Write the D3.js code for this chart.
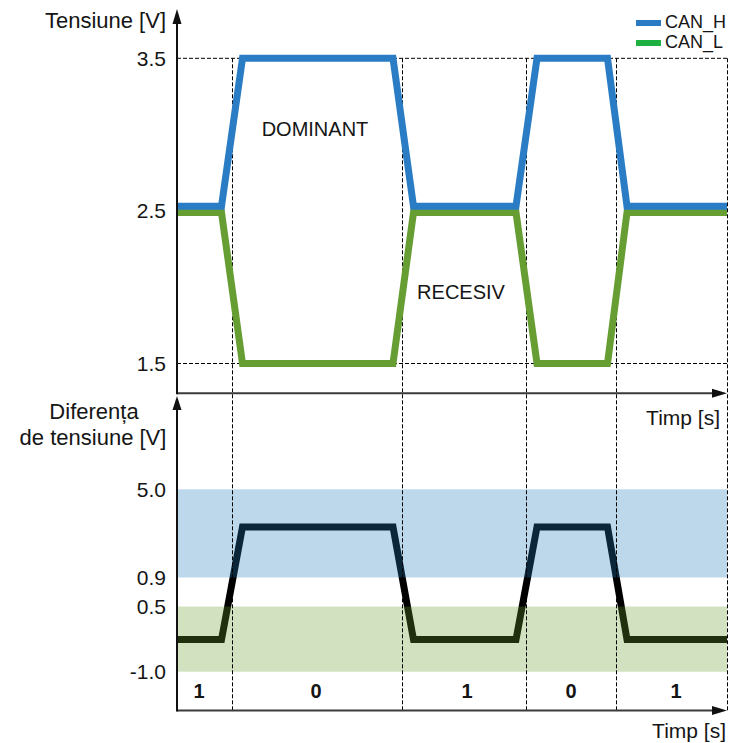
<!DOCTYPE html>
<html>
<head>
<meta charset="utf-8">
<script src="https://cdn.jsdelivr.net/npm/d3@7"></script>
<style>
  html, body { margin: 0; padding: 0; background: #fff; }
  svg { display: block; font-family: "Liberation Sans", Arial, sans-serif; }
</style>
</head>
<body>
<svg id="chart" width="736" height="743"></svg>
<script>
// ---------------- data ----------------
const times   = [0, 4.45, 6.55, 21.6, 23.65, 33.9, 36.0, 43.05, 45.0, 55];
const canH    = [2.53, 2.53, 3.5, 3.5, 2.53, 2.53, 3.5, 3.5, 2.53, 2.53];
const canL    = [2.49, 2.49, 1.5, 1.5, 2.49, 2.49, 1.5, 1.5, 2.49, 2.49];
const diffV   = [-0.26, -0.26, 3.25, 3.25, -0.26, -0.26, 3.25, 3.25, -0.26, -0.26];
const bitEdges  = [5.45, 22.45, 34.85, 43.85, 55];
const bits      = ["1", "0", "1", "0", "1"];
const bitLabelT = [2.2, 13.9, 29.0, 39.4, 49.9];
const topTicks    = [1.5, 2.5, 3.5];
const bottomTicks = [-1.0, 0.5, 0.9, 5.0];
const guideLevels = [3.5, 1.5];
const bandRanges  = [[0.9, 5.0], [-1.0, 0.5]];
const seriesNames = ["CAN_H", "CAN_L"];
const annotations = [
  { text: "DOMINANT", t: 13.8, v: 3.036 },
  { text: "RECESIV",  t: 28.4, v: 1.967 }
];

// ---------------- styles ----------------
const lineColors   = ["#2a7dc4", "#669e34"];
const legendColors = ["#2a7ac4", "#1eb040"];
const bandColors   = ["rgb(40,125,190)", "rgb(105,160,50)"];
const textColor = "#151515";

// ---------------- scales ----------------
const svg = d3.select("#chart");
const x = d3.scaleLinear().domain([0, 55]).range([177, 727]);
const yTop = d3.scaleLinear().domain([1.5, 3.5]).range([363.5, 58.3]);
const yBot = d3.scaleLinear().domain([-1.0, 0.5, 0.9, 5.0]).range([671.7, 606.5, 577.5, 489.3]);

const topAxisY = 393.3, botAxisY = 710.5;
const fmt = d => d.toFixed(1);

// ---------------- bottom chart: line first, then translucent bands ----------------
const idx = d3.range(times.length);
const lineGen = (ys, vals) => d3.line().x(i => x(times[i])).y(i => ys(vals[i]));

svg.append("path")
  .attr("d", lineGen(yBot, diffV)(idx))
  .attr("fill", "none").attr("stroke", "#000").attr("stroke-width", 7)
  .attr("stroke-linejoin", "miter");

svg.selectAll("rect.band").data(bandRanges).join("rect")
  .attr("class", "band")
  .attr("x", x(0)).attr("width", x(55) - x(0))
  .attr("y", d => yBot(d[1])).attr("height", d => yBot(d[0]) - yBot(d[1]))
  .attr("fill", (d, i) => bandColors[i]).attr("fill-opacity", 0.3);

// ---------------- dashed guides ----------------
const guides = svg.append("g").attr("stroke", "#000").attr("stroke-width", 1)
  .attr("stroke-dasharray", "4,2").attr("fill", "none");
guides.selectAll("line.h").data(guideLevels).join("line")
  .attr("x1", x(0)).attr("x2", x(55))
  .attr("y1", d => yTop(d)).attr("y2", d => yTop(d));
guides.selectAll("line.v").data(bitEdges).join("line")
  .attr("x1", d => Math.round(x(d)) + 0.5).attr("x2", d => Math.round(x(d)) + 0.5)
  .attr("y1", yTop(3.5)).attr("y2", botAxisY);

// ---------------- top chart lines ----------------
svg.append("path").attr("d", lineGen(yTop, canL)(idx))
  .attr("fill", "none").attr("stroke", lineColors[1]).attr("stroke-width", 7)
  .attr("stroke-linejoin", "miter");
svg.append("path").attr("d", lineGen(yTop, canH)(idx))
  .attr("fill", "none").attr("stroke", lineColors[0]).attr("stroke-width", 7)
  .attr("stroke-linejoin", "miter");

// ---------------- axes ----------------
function arrowLine(x1, y1, x2, y2, color, w) {
  svg.append("line").attr("x1", x1).attr("y1", y1).attr("x2", x2).attr("y2", y2)
    .attr("stroke", color).attr("stroke-width", w);
}
// top x axis
arrowLine(x(0), topAxisY, x(55) - 10, topAxisY, "#3a3a3a", 2);
svg.append("path").attr("d", `M${x(55)},${topAxisY} L${x(55)-15},${topAxisY-4.5} L${x(55)-15},${topAxisY+4.5} Z`).attr("fill", "#111");
// top y axis
arrowLine(x(0), topAxisY + 1, x(0), 20, "#111", 2);
svg.append("path").attr("d", `M${x(0)},9 L${x(0)-4.5},24 L${x(0)+4.5},24 Z`).attr("fill", "#111");
// bottom x axis
arrowLine(x(0), botAxisY, x(55) - 10, botAxisY, "#3a3a3a", 2);
svg.append("path").attr("d", `M${x(55)},${botAxisY} L${x(55)-15},${botAxisY-4.5} L${x(55)-15},${botAxisY+4.5} Z`).attr("fill", "#111");
// bottom y axis
arrowLine(x(0), botAxisY + 1, x(0), 405, "#111", 2);
svg.append("path").attr("d", `M${x(0)},396 L${x(0)-4.5},410 L${x(0)+4.5},410 Z`).attr("fill", "#111");

// tick labels via d3 axes
function styleAxis(g) {
  g.select(".domain").remove();
  g.selectAll("line").remove();
  g.selectAll("text").attr("font-size", 21).attr("fill", textColor)
    .attr("font-family", '"Liberation Sans", Arial, sans-serif');
}
svg.append("g").attr("transform", `translate(${x(0)},0)`)
  .call(d3.axisLeft(yTop).tickValues(topTicks).tickFormat(fmt).tickSize(0).tickPadding(11))
  .call(styleAxis);
svg.append("g").attr("transform", `translate(${x(0)},0)`)
  .call(d3.axisLeft(yBot).tickValues(bottomTicks).tickFormat(fmt).tickSize(0).tickPadding(11))
  .call(styleAxis);

// axis titles
const txt = (s, xx, yy, anchor, size, weight) =>
  svg.append("text").text(s).attr("x", xx).attr("y", yy)
    .attr("text-anchor", anchor).attr("dominant-baseline", "central")
    .attr("font-size", size).attr("font-weight", weight || "normal").attr("fill", textColor);

txt("Tensiune [V]", 166, 20, "end", 22);
txt("Diferența", 94, 411, "middle", 22);
txt("de tensiune [V]", 93, 437, "middle", 22);
txt("Timp [s]", 720, 417, "end", 21);
txt("Timp [s]", 726, 730, "end", 21);

// annotations
annotations.forEach(a => txt(a.text, x(a.t), yTop(a.v), "middle", 20));

// bit labels
svg.selectAll("text.bit").data(bits).join("text")
  .attr("class", "bit").text(d => d)
  .attr("x", (d, i) => x(bitLabelT[i])).attr("y", 691)
  .attr("text-anchor", "middle").attr("dominant-baseline", "central")
  .attr("font-size", 20).attr("font-weight", "bold").attr("fill", textColor);

// legend
const lg = svg.append("g");
seriesNames.forEach((n, i) => {
  const cy = 23 + i * 20;
  lg.append("line").attr("x1", 636).attr("x2", 661).attr("y1", cy).attr("y2", cy)
    .attr("stroke", legendColors[i]).attr("stroke-width", 6);
  lg.append("text").text(n).attr("x", 665).attr("y", cy - 1.5)
    .attr("dominant-baseline", "central").attr("font-size", 18).attr("fill", textColor);
});
</script>
</body>
</html>
